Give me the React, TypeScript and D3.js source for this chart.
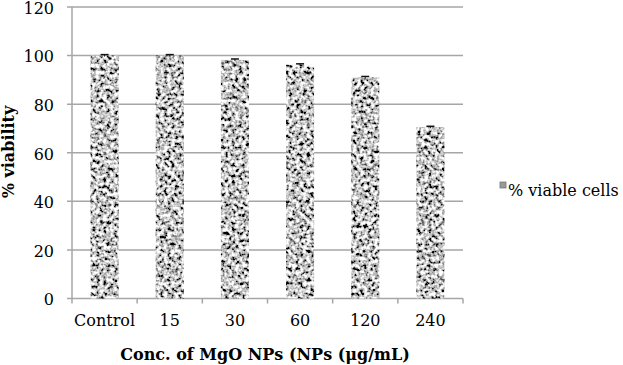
import React from "react";
import * as d3 from "d3";

const categories = ["Control", "15", "30", "60", "120", "240"];
const values = [100, 100, 98.2, 96.2, 91, 70.5];
const errors = [0.4, 0.4, 0.4, 0.4, 0.4, 0.4];
const yTicks = [0, 20, 40, 60, 80, 100, 120];
const seriesName = "% viable cells";
const yTitle = "% viability";
const xTitle = "Conc. of MgO NPs (NPs (μg/mL)";

const W = 623;
const H = 365;
const FONT = "DejaVu Serif, Liberation Serif, serif";

export default function App() {
  const x = d3.scaleBand<string>().domain(categories).range([72, 463]).padding(0);
  const y = d3.scaleLinear().domain([0, 120]).range([298.5, 7]);
  const bw = x.bandwidth() * 0.43;
  const grid = "#a6a6a6";

  return (
    <svg
      width={W}
      height={H}
      style={{ position: "absolute", left: 0, top: 0, background: "#fff" }}
      fontFamily={FONT}
    >
      <defs>
        <filter id="noise" x="0" y="0" width="100%" height="100%">
          <feTurbulence type="fractalNoise" baseFrequency="0.28" numOctaves={2} seed={7} result="n" />
          <feColorMatrix
            in="n"
            type="matrix"
            values="2.8 0 0 0 -0.85  2.8 0 0 0 -0.85  2.8 0 0 0 -0.85  0 0 0 0 1"
            result="g"
          />
          <feComposite in="g" in2="SourceGraphic" operator="in" />
        </filter>
      </defs>
      <rect x={0} y={0} width={W} height={H} fill="#fff" />
      {yTicks.map((t) => (
        <line key={t} x1={67} x2={463} y1={y(t)} y2={y(t)} stroke={grid} strokeWidth={1.5} />
      ))}
      <line x1={72} x2={72} y1={y(0)} y2={y(120)} stroke={grid} strokeWidth={1.5} />
      {categories.map((c) => (
        <line key={c} x1={x(c)!} x2={x(c)!} y1={y(0)} y2={y(0) + 5} stroke={grid} strokeWidth={1.5} />
      ))}
      <line x1={463} x2={463} y1={y(0)} y2={y(0) + 5} stroke={grid} strokeWidth={1.5} />
      {categories.map((c, i) => {
        const cx = x(c)! + x.bandwidth() / 2;
        return (
          <g key={c}>
            <rect
              x={cx - bw / 2}
              y={y(values[i])}
              width={bw}
              height={y(0) - y(values[i])}
              fill="#888"
              filter="url(#noise)"
            />
            <line x1={cx - 4} x2={cx + 4} y1={y(values[i] + errors[i])} y2={y(values[i] + errors[i])} stroke="#111" strokeWidth={1.5} />
            <line x1={cx} x2={cx} y1={y(values[i] - errors[i])} y2={y(values[i] + errors[i])} stroke="#111" strokeWidth={1} />
          </g>
        );
      })}
      {yTicks.map((t) => (
        <text key={t} x={54} y={y(t) + 6.8} textAnchor="end" fontSize={16} fill="#000" fontFamily={FONT}>
          {t}
        </text>
      ))}
      {categories.map((c) => (
        <text key={c} x={x(c)! + x.bandwidth() / 2} y={326} textAnchor="middle" fontSize={16} fill="#000" fontFamily={FONT}>
          {c}
        </text>
      ))}
      <text
        transform={`translate(14,152) rotate(-90)`}
        textAnchor="middle"
        fontSize={16}
        fontWeight="bold"
        fill="#000"
        fontFamily={FONT}
      >
        {yTitle}
      </text>
      <text x={265} y={360} textAnchor="middle" fontSize={16} fontWeight="bold" fill="#000" fontFamily={FONT}>
        {xTitle}
      </text>
      <rect x={500} y={182} width={6} height={6} fill="#999" stroke="#777" strokeWidth={0.8} />
      <text x={508} y={196} fontSize={16} fill="#000" fontFamily={FONT}>
        {seriesName}
      </text>
    </svg>
  );
}
